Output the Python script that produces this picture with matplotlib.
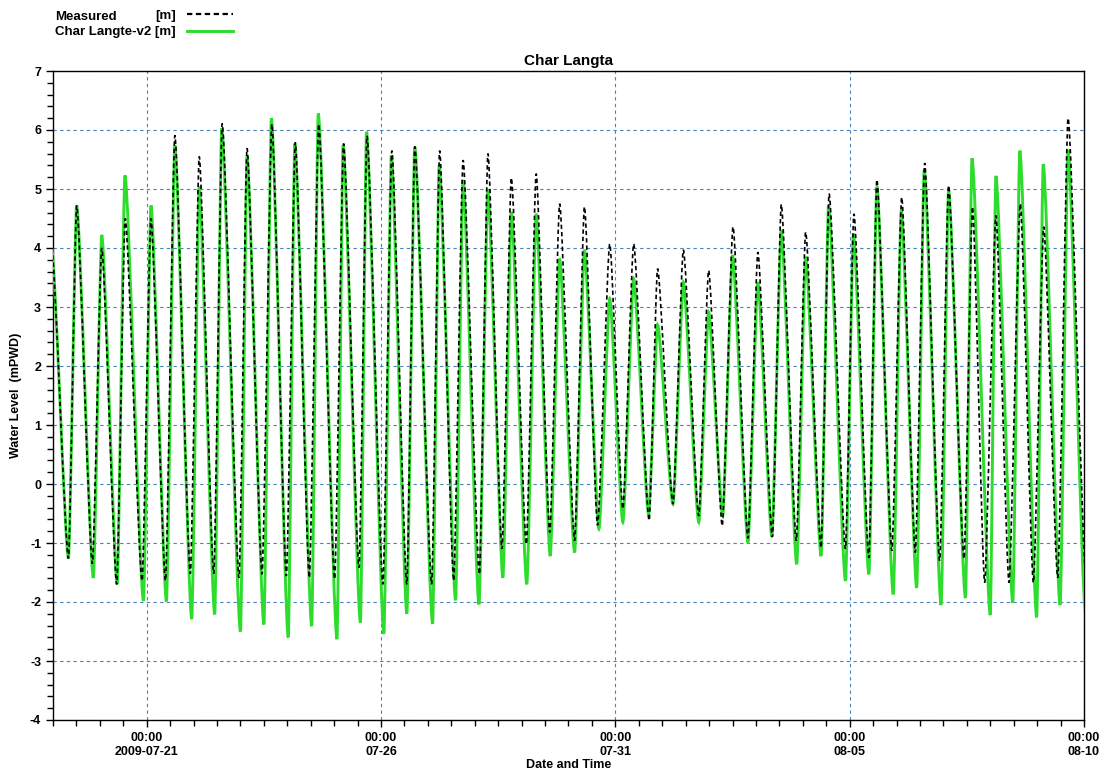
import datetime as dt
import numpy as np
import matplotlib
matplotlib.use("Agg")
import matplotlib.pyplot as plt
import matplotlib.dates as mdates
from matplotlib.path import Path
from matplotlib.patches import PathPatch
from matplotlib.lines import Line2D
from matplotlib.ticker import MultipleLocator, FixedLocator, FuncFormatter

plt.rcParams['font.family'] = ['Liberation Sans', 'DejaVu Sans']
plt.rcParams['font.weight'] = 'bold'
plt.rcParams['axes.unicode_minus'] = False

START = dt.datetime(2009, 7, 19)
END = dt.datetime(2009, 8, 10)

# Tidal turning points at Char Langta: days after 2009-07-19 00:00 and level (m PWD)
model_days = [-0.03, 0.33, 0.505, 0.86, 1.04, 1.37, 1.535, 1.93, 2.09, 2.42, 2.60,
              2.96, 3.12, 3.45, 3.60, 4.00, 4.14, 4.50, 4.66, 5.02, 5.16,
              5.52, 5.66, 6.06, 6.19, 6.56, 6.69, 7.06, 7.22, 7.55, 7.72,
              8.10, 8.24, 8.59, 8.75, 9.09, 9.28, 9.60, 9.78, 10.11, 10.31,
              10.61, 10.81, 11.13, 11.34, 11.65, 11.88, 12.16, 12.39, 12.71, 12.90,
              13.23, 13.45, 13.78, 13.99, 14.29, 14.50, 14.83, 15.04, 15.34, 15.54,
              15.87, 16.06, 16.39, 16.55, 16.91, 17.08, 17.41, 17.58, 17.93, 18.10,
              18.43, 18.59, 18.95, 19.11, 19.47, 19.61, 20.00, 20.12, 20.48, 20.63,
              20.99, 21.13, 21.49, 21.66, 22.03]
model_level = [4.00, -1.26, 4.72, -1.59, 4.22, -1.70, 5.23, -1.98, 4.72, -1.99, 5.74,
               -2.29, 5.04, -2.21, 6.03, -2.50, 5.55, -2.38, 6.20, -2.60, 5.77,
               -2.41, 6.28, -2.63, 5.74, -2.35, 5.97, -2.54, 5.57, -2.20, 5.71,
               -2.37, 5.40, -1.97, 5.15, -2.04, 4.98, -1.59, 4.61, -1.70, 4.58,
               -1.22, 3.82, -1.16, 3.97, -0.76, 3.14, -0.65, 3.48, -0.51, 2.70,
               -0.34, 3.42, -0.65, 2.91, -0.54, 3.88, -0.99, 3.42, -0.89, 4.30,
               -1.36, 3.85, -1.22, 4.72, -1.64, 4.24, -1.53, 5.04, -1.87, 4.64,
               -1.76, 5.32, -2.05, 4.98, -1.93, 5.52, -2.22, 5.22, -2.01, 5.65,
               -2.26, 5.42, -2.05, 5.66, -2.15]

measured_days = [-0.03, 0.33, 0.505, 0.84, 1.04, 1.36, 1.54, 1.90, 2.09, 2.40, 2.60,
                 2.93, 3.12, 3.43, 3.61, 3.97, 4.14, 4.46, 4.67, 4.98, 5.17,
                 5.47, 5.67, 6.01, 6.20, 6.53, 6.70, 7.04, 7.23, 7.55, 7.72,
                 8.08, 8.25, 8.55, 8.75, 9.10, 9.28, 9.58, 9.78, 10.10, 10.31,
                 10.60, 10.81, 11.13, 11.34, 11.62, 11.88, 12.16, 12.39, 12.72, 12.90,
                 13.23, 13.45, 13.78, 13.99, 14.28, 14.51, 14.83, 15.04, 15.35, 15.54,
                 15.86, 16.06, 16.39, 16.56, 16.91, 17.09, 17.41, 17.58, 17.90, 18.11,
                 18.40, 18.60, 18.92, 19.11, 19.44, 19.62, 19.88, 20.12, 20.40, 20.64,
                 20.92, 21.14, 21.44, 21.66, 22.05]
measured_level = [4.00, -1.26, 4.72, -1.35, 4.00, -1.70, 4.50, -1.64, 4.50, -1.64, 5.91,
                  -1.52, 5.55, -1.52, 6.11, -1.59, 5.69, -1.53, 6.10, -1.56, 5.79,
                  -1.59, 6.10, -1.61, 5.77, -1.42, 5.90, -1.70, 5.65, -1.70, 5.72,
                  -1.70, 5.65, -1.64, 5.49, -1.53, 5.60, -1.10, 5.19, -1.02, 5.26,
                  -0.82, 4.75, -0.96, 4.70, -0.70, 4.07, -0.42, 4.07, -0.62, 3.65,
                  -0.34, 3.97, -0.54, 3.62, -0.71, 4.36, -0.92, 3.93, -0.90, 4.74,
                  -0.96, 4.27, -1.08, 4.92, -1.10, 4.58, -1.25, 5.16, -1.13, 4.86,
                  -1.16, 5.44, -1.30, 5.06, -1.27, 4.70, -1.67, 4.55, -1.67, 4.75,
                  -1.67, 4.36, -1.59, 6.20, -1.70]

major_dates = [dt.datetime(2009, 7, 21), dt.datetime(2009, 7, 26), dt.datetime(2009, 7, 31),
               dt.datetime(2009, 8, 5), dt.datetime(2009, 8, 10)]

MODEL_COLOR = '#2edc2e'
GRID_COLOR = '#4a82b8'


def tide_path(days, levels, base, tension=0.2):
    """Smooth curve through successive high/low waters, flat at each turning point."""
    x = base + np.asarray(days, dtype=float)
    y = np.asarray(levels, dtype=float)
    verts = [(x[0], y[0])]
    codes = [Path.MOVETO]
    for i in range(len(x) - 1):
        d = x[i + 1] - x[i]
        verts += [(x[i] + tension * d, y[i]), (x[i + 1] - tension * d, y[i + 1]),
                  (x[i + 1], y[i + 1])]
        codes += [Path.CURVE4] * 3
    return Path(verts, codes)


fig = plt.figure(figsize=(11.07, 7.8), dpi=100)
ax = fig.add_axes([53 / 1107, 1 - 720 / 780, (1084 - 53) / 1107, (720 - 71) / 780])

ax.set_xlim(START, END)
ax.set_ylim(-4, 7)
base = mdates.date2num(START)

ax.add_patch(PathPatch(tide_path(model_days, model_level, base), fill=False,
                       edgecolor=MODEL_COLOR, linewidth=2.1, zorder=3))
ax.add_patch(PathPatch(tide_path(measured_days, measured_level, base), fill=False,
                       edgecolor='black', linewidth=1.2, linestyle=(0, (2.6, 1.8)), zorder=4))

# axes decoration
ax.xaxis.set_major_locator(FixedLocator(mdates.date2num(major_dates)))
ax.xaxis.set_minor_locator(mdates.HourLocator(byhour=[0, 12]))


def date_label(v, pos):
    d = mdates.num2date(v)
    if pos == 0:
        return '00:00\n' + d.strftime('%Y-%m-%d')
    return '00:00\n' + d.strftime('%m-%d')


ax.xaxis.set_major_formatter(FuncFormatter(date_label))
ax.yaxis.set_major_locator(MultipleLocator(1))
ax.yaxis.set_minor_locator(MultipleLocator(0.2))

ax.tick_params(which='both', direction='out', colors='black', labelsize=9, width=1)
ax.tick_params(which='major', length=5)
ax.tick_params(which='minor', length=4)
for lab in ax.get_xticklabels() + ax.get_yticklabels():
    lab.set_fontweight('bold')
    lab.set_linespacing(1.25)

ax.grid(True, which='major', color=GRID_COLOR, linestyle=(0, (3, 3)), linewidth=0.8)
ax.set_axisbelow(True)
for sp in ax.spines.values():
    sp.set_color('black')
    sp.set_linewidth(1.0)

ax.set_title('Char Langta', fontsize=11, fontweight='bold', pad=4)
ax.set_xlabel('Date and Time', fontsize=9, fontweight='bold', labelpad=1)
ax.set_ylabel('Water Level  (mPWD)', fontsize=9, fontweight='bold')
ax.yaxis.set_label_coords(-0.030, 0.5)

# legend block above the plot, label first then line sample
fs = 9.5
fig.text(55 / 1107, 1 - 19.5 / 780, 'Measured', fontsize=fs, fontweight='bold', va='baseline')
fig.text(155 / 1107, 1 - 19.5 / 780, '[m]', fontsize=fs, fontweight='bold', va='baseline')
fig.text(55 / 1107, 1 - 34.5 / 780, 'Char Langte-v2 [m]', fontsize=fs, fontweight='bold', va='baseline')
fig.add_artist(Line2D([187 / 1107, 233 / 1107], [1 - 14 / 780] * 2, transform=fig.transFigure,
                      color='black', linewidth=1.6, linestyle=(0, (2.4, 1.6))))
fig.add_artist(Line2D([187 / 1107, 233 / 1107], [1 - 30.5 / 780] * 2, transform=fig.transFigure,
                      color=MODEL_COLOR, linewidth=2.1))

fig.savefig('out.png', dpi=100)
